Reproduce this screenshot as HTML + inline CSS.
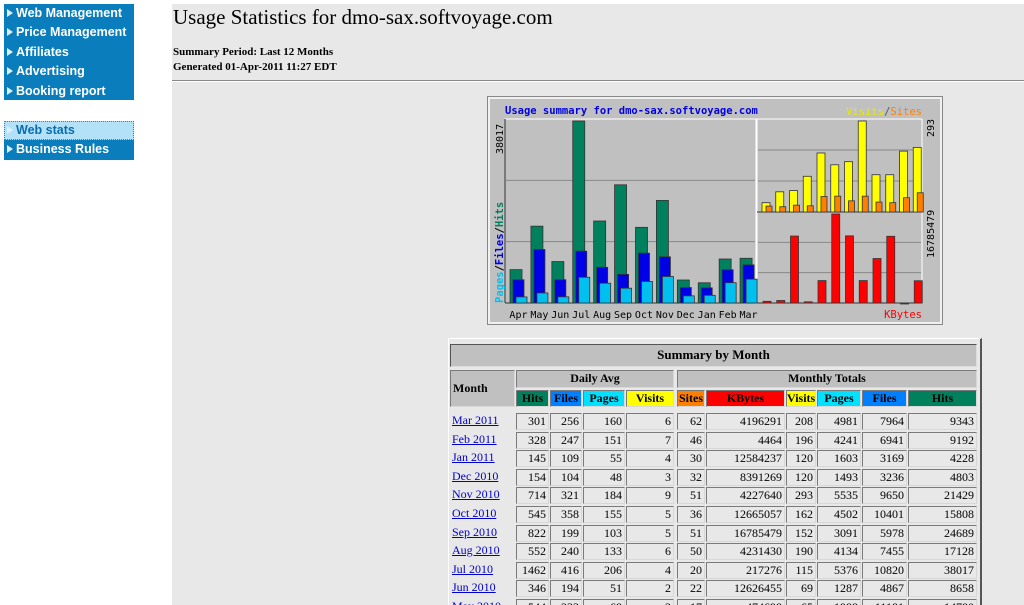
<!DOCTYPE html>
<html style="overflow:hidden"><head><meta charset="utf-8"><style>
html,body{overflow:hidden}
body{margin:0;width:1024px;height:605px;overflow:hidden;background:#fff;position:relative;font-family:"Liberation Serif",serif}
.menu{position:absolute;left:4px;width:130px;background:#0a7dbd;font:bold 12.5px "Liberation Sans",sans-serif;color:#fff}
.mi{height:19.4px;line-height:19px;padding-left:3px;white-space:nowrap}
.mi:before{content:"";display:inline-block;border-left:6px solid #dfefff;border-top:4px solid transparent;border-bottom:4px solid transparent;margin-right:3px;vertical-align:0}
#main{position:absolute;left:172px;top:4px;width:852px;height:601px;background:#e8e8e8}
.c{position:absolute;box-sizing:border-box;border:1px solid;border-color:#7a7a7a #d8d8d8 #d8d8d8 #7a7a7a;font-size:12px;line-height:15px;text-align:right;padding-right:2px;color:#000;white-space:nowrap}
.h{text-align:center;font-weight:bold;padding:0;background:#c0c0c0}
a{color:#00c;}
#tbl{position:absolute;left:0;top:0;width:1024px;height:605px;overflow:hidden}
</style></head><body>
<div class="menu" style="top:4px;height:96px">
<div class="mi">Web Management</div>
<div class="mi">Price Management</div>
<div class="mi">Affiliates</div>
<div class="mi">Advertising</div>
<div class="mi">Booking report</div>
</div>
<div class="menu" style="top:121px;height:39px">
<div class="mi" style="background:#b3e2f8;color:#0a6cb0;outline:1px dotted #e04040;outline-offset:-1px">Web stats</div>
<div class="mi">Business Rules</div>
</div>
<div id="main">
<div style="position:absolute;left:1px;top:1px;font-size:21px">Usage Statistics for dmo-sax.softvoyage.com</div>
<div style="position:absolute;left:1px;top:41px;font-size:11px;font-weight:bold;line-height:15px">Summary Period: Last 12 Months<br>Generated 01-Apr-2011 11:27 EDT</div>
<div style="position:absolute;left:0;top:76px;width:852px;height:1px;background:#888;border-bottom:1px solid #fff"></div>
</div>
<svg id="chart" style="position:absolute;left:487px;top:96px" width="456" height="229"></svg>
<div id="tbl"></div>
<script>
const months=["Apr","May","Jun","Jul","Aug","Sep","Oct","Nov","Dec","Jan","Feb","Mar"];
const hits=[6970,16050,8658,38017,17128,24689,15808,21429,4803,4228,9192,9343];
const files=[4858,11181,4867,10820,7455,5978,10401,9650,3236,3169,6941,7964];
const pages=[1267,2100,1287,5376,4134,3091,4502,5535,1493,1603,4241,4981];
const visits=[30,65,69,115,190,152,162,293,120,120,196,208];
const sites=[19,17,22,20,50,51,36,51,32,30,46,62];
const kbytes=[320000,474690,12626455,217276,4231430,16785479,12665057,4227640,8391269,12584237,4464,4196291];
const NS="http://www.w3.org/2000/svg";
const svg=document.getElementById('chart');
function el(t,a,txt){const e=document.createElementNS(NS,t);for(const k in a)e.setAttribute(k,a[k]);if(txt!==undefined)e.textContent=txt;svg.appendChild(e);return e;}
let e;
e=el('rect',{x:0.5,y:0.5,width:455,height:228,fill:'#c0c0c0',stroke:'#888','stroke-width':1});


el('rect',{x:2,y:2,width:452,height:225,fill:'none',stroke:'#f0f0f0','stroke-width':2});
const L={x:18,y:23,w:251,h:184}, T={x:270,y:23,w:165,h:93}, B={x:270,y:116,w:165,h:91};
[L,T,B].forEach(p=>{el('rect',{x:p.x,y:p.y,width:p.w,height:p.h,fill:'#c0c0c0',stroke:'#fff','stroke-width':1});});
el('line',{x1:L.x,y1:L.y,x2:L.x,y2:L.y+L.h,stroke:'#333'});el('line',{x1:L.x,y1:L.y+L.h,x2:L.x+L.w,y2:L.y+L.h,stroke:'#333'});
[T,B].forEach(p=>{el('line',{x1:p.x,y1:p.y+p.h,x2:p.x+p.w,y2:p.y+p.h,stroke:'#333'});});
function grid(p,n){for(let i=1;i<n;i++){const y=p.y+p.h-p.h*i/n;el('line',{x1:p.x+1,y1:y,x2:p.x+p.w-1,y2:y,stroke:'#888'});}}
grid(L,3);grid(T,3);grid(B,3);
const hmax=Math.max(...hits),vmax=Math.max(...visits),kmax=Math.max(...kbytes);
function yL(v){return L.y+L.h-(v/hmax)*(L.h-2);}
function yT(v){return T.y+T.h-(v/vmax)*(T.h-2);}
function yB(v){return B.y+B.h-(v/kmax)*(B.h-2);}
function bar(x,y0,y,w,c,name){const b=el('rect',{x:x,y:y,width:w,height:Math.max(1,y0-y),fill:c,stroke:'#333','stroke-width':0.8});

}
const gw=L.w/12, rw=T.w/12;
const F='DejaVu Sans Mono,monospace';
months.forEach((m,i)=>{
 const gx=L.x+i*gw;
 bar(gx+5,L.y+L.h,yL(hits[i]),12,'#00805c','bar-hits-'+m);
 bar(gx+8,L.y+L.h,yL(files[i]),11,'#0000e6','bar-files-'+m);
 bar(gx+11,L.y+L.h,yL(pages[i]),11,'#00c0f0','bar-pages-'+m);
 const t=el('text',{x:gx+gw/2+3,y:222,'text-anchor':'middle','font-family':F,'font-size':10,fill:'#000'},m);
 
 
 const rx=T.x+i*rw;
 bar(rx+5,T.y+T.h,yT(visits[i]),8,'#ffff00','bar-visits-'+m);
 bar(rx+9,T.y+T.h,yT(sites[i]),6,'#ff8000','bar-sites-'+m);
 bar(rx+6,B.y+B.h,yB(kbytes[i]),8,'#ff0000','bar-kbytes-'+m);
});
el('text',{x:18,y:18,'font-family':F,'font-size':10.5,'font-weight':'bold',fill:'#0000e0'},'Usage summary for dmo-sax.softvoyage.com');
const vs=el('text',{x:435,y:19,'text-anchor':'end','font-family':F,'font-size':10.5});
vs.innerHTML='<tspan fill="#e8e800">Visits</tspan><tspan fill="#555">/</tspan><tspan fill="#ff8000">Sites</tspan>';
el('text',{x:435,y:222,'text-anchor':'end','font-family':F,'font-size':10.5,fill:'#ff0000'},'KBytes');
el('text',{transform:'translate(16,58) rotate(-90)','font-family':F,'font-size':10,fill:'#000'},'38017');
const ph=el('text',{transform:'translate(16,207) rotate(-90)','font-family':F,'font-size':10.5,'font-weight':'bold'});
ph.innerHTML='<tspan fill="#00c0f0">Pages</tspan><tspan fill="#000">/</tspan><tspan fill="#0000e6">Files</tspan><tspan fill="#000">/</tspan><tspan fill="#00805c">Hits</tspan>';
el('text',{transform:'translate(447,41) rotate(-90)','font-family':F,'font-size':10,fill:'#000'},'293');
el('text',{transform:'translate(447,162) rotate(-90)','font-family':F,'font-size':10,fill:'#000'},'16785479');

const tMonths=["Mar 2011","Feb 2011","Jan 2011","Dec 2010","Nov 2010","Oct 2010","Sep 2010","Aug 2010","Jul 2010","Jun 2010","May 2010"];
const dHits=[301,328,145,154,714,545,822,552,1462,346,544];
const dFiles=[256,247,109,104,321,358,199,240,416,194,233];
const dPages=[160,151,55,48,184,155,103,133,206,51,68];
const dVisits=[6,7,4,3,9,5,5,6,4,2,2];
const tSites=[62,46,30,32,51,36,51,50,20,22,17];
const tKB=[4196291,4464,12584237,8391269,4227640,12665057,16785479,4231430,217276,12626455,474698];
const tVisits=[208,196,120,120,293,162,152,190,115,69,65];
const tPages=[4981,4241,1603,1493,5535,4502,3091,4134,5376,1287,1988];
const tFiles=[7964,6941,3169,3236,9650,10401,5978,7455,10820,4867,11181];
const tHits=[9343,9192,4228,4803,21429,15808,24689,17128,38017,8658,14780];
const tb=document.getElementById('tbl');
function cell(x,y,w,h,html,cls,bg,name){const d=document.createElement('div');d.className='c '+(cls||'');
d.style.cssText+=`left:${x}px;top:${y}px;width:${w}px;height:${h}px;`+(bg?`background:${bg};`:'');d.innerHTML=html;


tb.appendChild(d);return d;}
const outer=document.createElement('div');outer.style.cssText='position:absolute;left:448px;top:338px;width:531px;height:270px;border-top:1px solid #fff;border-right:2px solid #555;border-left:1px solid #fff';


tb.appendChild(outer);
let c=cell(450,344,527,23,'Summary by Month','h',null,'table-title');c.style.fontSize='13px';c.style.lineHeight='20px';c.style.borderColor='#555 #ddd #ddd #555';
c=cell(450,370,65,37,'Month','h',null,'month-header');c.style.textAlign='left';c.style.lineHeight='34px';c.style.paddingLeft='2px';
cell(516,370,158,18,'Daily Avg','h',null,'daily-avg-header');
cell(677,370,300,18,'Monthly Totals','h',null,'monthly-totals-header');
const cols=[[516,33],[550,32],[583,42],[626,48],[677,28],[706,79],[786,30],[817,44],[862,45],[908,69]];
const hdr=[["Hits","#00805c"],["Files","#0080ff"],["Pages","#00e0ff"],["Visits","#ffff00"],["Sites","#ff8000"],["KBytes","#ff0000"],["Visits","#ffff00"],["Pages","#00e0ff"],["Files","#0080ff"],["Hits","#00805c"]];
hdr.forEach((h,i)=>{cell(cols[i][0],390,cols[i][1],17,h[0],'h',h[1],'col-header-'+h[0].toLowerCase());});
const series=[dHits,dFiles,dPages,dVisits,tSites,tKB,tVisits,tPages,tFiles,tHits];
tMonths.forEach((m,r)=>{
 const y=413+r*18.6;
 const mc=cell(450,y,65,17,'<a href="#">'+m+'</a>','',null,'month-link');mc.style.textAlign='left';mc.style.paddingLeft='2px';mc.style.border='none';
 
 series.forEach((s,i)=>{cell(cols[i][0],y,cols[i][1],17,s[r],'',null,'table-value');});
});
</script>
</body></html>
